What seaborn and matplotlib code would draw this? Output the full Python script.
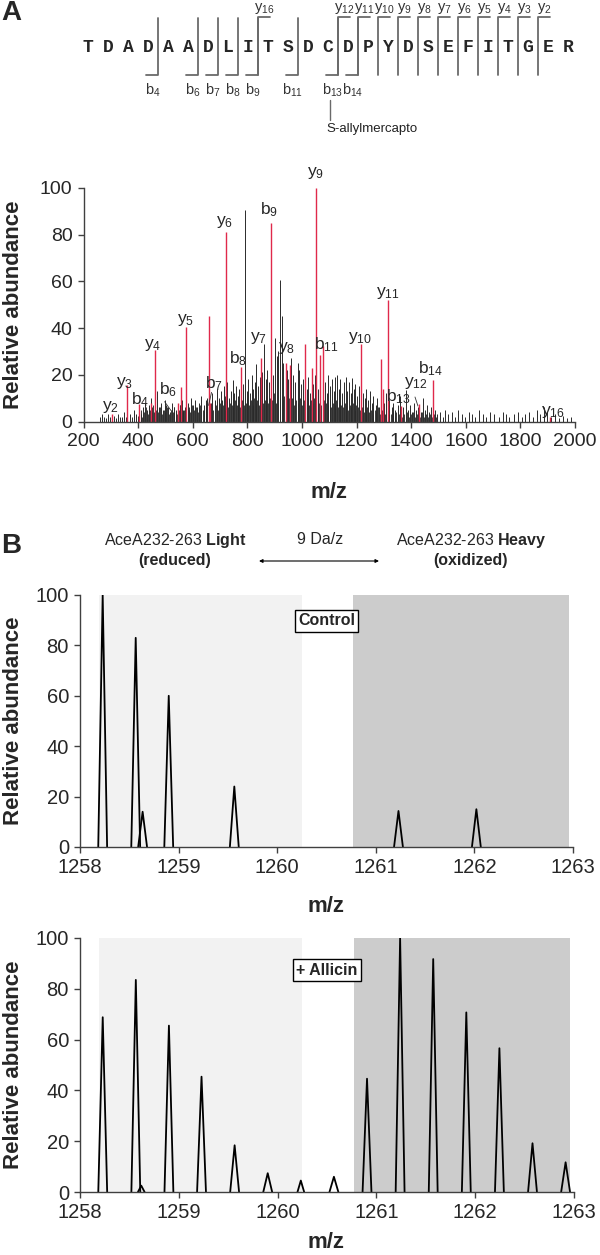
import numpy as np
import pandas as pd
import matplotlib
matplotlib.use("Agg")
import matplotlib.pyplot as plt
import seaborn as sns

# ---------------- data ----------------
SEQUENCE = list("TDADAADLITSDCDPYDSEFITGER")
B_IONS = [4, 6, 7, 8, 9, 11, 13, 14]
Y_IONS = [16, 12, 11, 10, 9, 8, 7, 6, 5, 4, 3, 2]

# annotated (red) fragment peaks
RED_MZ = [304, 361, 403, 448, 462, 545, 557, 575, 658, 662, 722, 776, 851, 886,
          940, 955, 1011, 1036, 1053, 1067, 1076, 1216, 1289, 1296, 1314, 1364,
          1429, 1479, 1907]
RED_INT = [3, 15.6, 7.6, 8, 30.6, 8, 14.6, 40.6, 45, 8, 81.3, 23.5, 27, 84.9,
           25, 24, 33, 23, 100, 28.6, 32.4, 33, 26.6, 14, 52, 6.7,
           7.7, 17.6, 2]

# unassigned (black) peaks
BLACK_MZ = [260, 268, 275, 283, 290, 298, 310, 318, 326, 334, 340, 348, 356, 370, 378, 386, 392, 398,
            405, 412, 418, 425, 432, 440, 447, 452, 458, 469, 476, 482, 490, 497, 503, 510, 517, 523,
            530, 537, 552, 560, 566, 572, 582, 588, 595, 602, 610, 617, 624, 632, 640, 647,
            654, 667, 672, 680, 688, 695, 702, 708, 714, 720, 727, 733, 740, 746, 752, 758, 764, 770,
            783, 791, 797, 803, 810, 816, 822, 828, 833, 840, 846, 855, 861, 867, 873, 880, 888, 895,
            903, 909, 914, 921, 926, 932, 946, 950, 961, 968, 975, 984, 990, 996,
            1003, 1018, 1024, 1030, 1042, 1048, 1060, 1084, 1090, 1097, 1104, 1110, 1117, 1122, 1128,
            1135, 1141, 1148, 1154, 1160, 1166, 1172, 1178, 1183, 1190, 1196, 1202, 1208, 1223, 1230,
            1236, 1243, 1250, 1256, 1262, 1270, 1276, 1282, 1302, 1308,
            1320, 1328, 1335, 1342, 1350, 1358, 1370, 1380, 1387, 1395, 1402, 1410, 1418, 1425, 1435,
            1442, 1450, 1458, 1466, 1472, 1488, 1495,
            1505, 1515, 1525, 1535, 1548, 1560, 1572, 1585, 1598, 1610, 1622, 1635, 1650, 1662, 1675,
            1690, 1705, 1720, 1735, 1748, 1760, 1775, 1790, 1805, 1818, 1830, 1845, 1860, 1872, 1885,
            1898, 1912, 1925, 1940, 1955, 1970, 1985]
BLACK_INT = [2, 3, 2, 1.5, 3, 2, 2.5, 1.5, 3, 2, 2, 4, 2, 3, 2, 5, 3, 2.5,
             4, 3, 6, 8, 5, 7, 10, 6, 4, 13, 6, 8, 5, 9, 7, 6, 4, 8,
             6, 5, 7, 9, 5, 6, 8, 5, 10, 7, 9, 6, 8, 11, 7, 9,
             10, 8, 12, 9, 14, 10, 13, 9, 15, 11, 17, 10, 13, 17.6, 12, 15, 11, 14,
             16, 90.6, 13, 18, 12, 20, 14, 17, 24.5, 15, 19, 21, 33.4, 18, 22, 17, 25, 20,
             35.7, 28, 30, 60.6, 45, 25, 22, 18, 27, 20, 17, 25, 22, 16,
             18, 14, 19, 12, 16, 20, 14, 17, 12, 20, 15, 18, 13, 19, 20,
             14, 18, 12, 17, 19, 13, 17, 12, 18.5, 14, 16, 11, 15, 12, 10,
             14, 9, 13, 8, 11, 7, 10, 6, 8, 12,
             9, 6, 8, 5, 7, 11, 6, 13.5, 5, 7, 4, 8, 5, 6, 4,
             10, 5, 7, 4, 6, 5, 3,
             4, 2, 5, 3, 4, 2, 5, 3, 2, 4, 3, 2, 5, 3, 2,
             4, 3, 2, 4, 3, 2, 3, 4, 2, 3, 4, 2, 5, 3, 6,
             4, 2, 3, 1.5, 2.5, 1.5, 2]

# low-level background peaks
BG_MZ = [402, 409, 415, 421, 428, 436, 443, 450, 455, 462, 466, 473, 479, 486, 493, 500, 506, 513, 520, 527,
         533, 541, 548, 555, 563, 569, 576, 585, 591, 598, 606, 613, 620, 628, 636, 643, 650, 658, 663, 676,
         684, 692, 699, 705, 711, 717, 724, 730, 737, 743, 749, 755, 761, 767, 774, 779, 787, 794, 800, 806,
         813, 819, 825, 831, 837, 843, 850, 858, 864, 870, 877, 884, 891, 898, 906, 918, 929, 936, 943, 953,
         958, 965, 972, 979, 987, 993, 999, 1006, 1012, 1021, 1027, 1033, 1039, 1045, 1052, 1057, 1063, 1070, 1080, 1087,
         1094, 1101, 1107, 1113, 1120, 1125, 1131, 1138, 1144, 1151, 1157, 1163, 1169, 1175, 1181, 1187, 1193, 1199, 1205, 1212,
         1219, 1226, 1233, 1240, 1247, 1253, 1259, 1266, 1273, 1279, 1286, 1293, 1299, 1305, 1318, 1325, 1332, 1339, 1346, 1354,
         1362, 1367, 1374, 1384, 1391, 1398, 1406, 1414, 1421, 1432, 1438, 1446, 1454, 1462, 1469, 1478, 1484, 1492]
BG_INT = [3, 5, 2, 4, 6, 3, 5, 4, 7, 3, 5, 4, 6, 3, 5, 4, 6, 3, 5, 4,
          6, 3, 5, 7, 4, 5, 3, 6, 4, 7, 5, 6, 4, 7, 5, 6, 8, 4, 6, 5,
          7, 5, 8, 6, 7, 5, 9, 6, 8, 7, 6, 9, 7, 8, 6, 9, 7, 8, 10, 7,
          9, 7, 10, 8, 9, 7, 10, 8, 9, 11, 8, 10, 9, 12, 8, 10, 9, 11, 8, 10,
          8, 10, 7, 9, 8, 10, 7, 9, 8, 10, 7, 9, 8, 10, 7, 9, 8, 7, 9, 8,
          7, 9, 6, 8, 7, 9, 6, 8, 7, 6, 8, 7, 5, 7, 6, 8, 5, 7, 6, 5,
          6, 4, 5, 6, 4, 5, 3, 5, 4, 6, 3, 5, 4, 3, 5, 3, 4, 2, 4, 3,
          4, 2, 3, 4, 2, 3, 4, 2, 3, 2, 4, 2, 3, 2, 3, 2, 3, 2]

# ion labels placed on spectrum A
ION_TYPE = ["y", "y", "b", "y", "b", "y", "b", "y", "b", "y", "b", "y", "y", "b", "y", "y", "b", "y", "b", "y"]
ION_NUM = [2, 3, 4, 4, 6, 5, 7, 6, 8, 7, 9, 8, 9, 11, 10, 11, 13, 12, 14, 16]
LABEL_MZ = [300, 352, 406, 455, 511, 574, 679, 718, 766, 840, 879, 945, 1050, 1090, 1211, 1314, 1352, 1418, 1471, 1919]
LABEL_Y = [6.3, 16.5, 9.2, 32.8, 13.5, 43.5, 16.3, 85.6, 27, 35.6, 90.6, 31.3, 106.3, 32.8, 35.6, 54.9, 10.5, 16.5, 22.8, 4.2]

# panel B isotope envelopes
CTRL_MZ = [1258.23, 1258.565, 1258.635, 1258.90, 1259.565, 1261.23, 1262.02]
CTRL_AB = [100, 83, 14, 60, 24, 14.3, 15]
ALLI_MZ = [1258.23, 1258.565, 1258.62, 1258.90, 1259.23, 1259.565, 1259.90, 1260.235,
           1260.57, 1260.905, 1261.24, 1261.575, 1261.91, 1262.245, 1262.58, 1262.915]
ALLI_AB = [68.8, 83.5, 2.5, 65.5, 45.4, 18.4, 7.4, 4.5,
           6, 44.6, 100, 91.7, 70.7, 56.6, 19.2, 11.7]
LIGHT_RANGE = (1258.19, 1260.25)
HEAVY_RANGE = (1260.77, 1262.96)

RED = "#e0294b"
BRACKET = "#6a6a6a"
SPINE = "#404040"

sns.set_style("ticks")
plt.rcParams["font.family"] = ["Liberation Sans", "DejaVu Sans"]
plt.rcParams["mathtext.fontset"] = "custom"
plt.rcParams["mathtext.rm"] = "Liberation Sans"
plt.rcParams["mathtext.it"] = "Liberation Sans:italic"
plt.rcParams["mathtext.bf"] = "Liberation Sans:bold"

W, H = 600, 1255
fig = plt.figure(figsize=(6, 12.55), dpi=100)

ov = fig.add_axes([0, 0, 1, 1])
ov.set_xlim(0, W)
ov.set_ylim(H, 0)
ov.axis("off")


def px_axes(left, top, right, bottom):
    return fig.add_axes([left / W, 1 - bottom / H, (right - left) / W, (bottom - top) / H])


def style_axes(ax, size):
    sns.despine(ax=ax)
    for s in ("left", "bottom"):
        ax.spines[s].set_color(SPINE)
        ax.spines[s].set_linewidth(1.0)
    ax.tick_params(direction="out", length=4, width=1, color=SPINE, labelsize=size, pad=4)
    ax.set_facecolor("none")
    ax.grid(False)


# ---------------- panel A: sequence map ----------------
ov.text(11, 13, "A", fontsize=20, weight="bold", ha="center", va="center")
X0, STEP, Y_SEQ = 88, 20, 47
for i, aa in enumerate(SEQUENCE):
    ov.text(X0 + STEP * i, Y_SEQ, aa, family="Liberation Mono", weight="bold",
            fontsize=13, ha="center", va="center")
for n in B_IONS:
    xb = X0 + STEP * (n - 0.5)
    ov.plot([xb - 12, xb, xb], [75, 75, 18], color=BRACKET, lw=1.3)
    ov.text(xb - 5, 90, f"b$_{{{n}}}$", fontsize=10.5, color="#333333", ha="center", va="center")
for n in Y_IONS:
    xy = X0 + STEP * (len(SEQUENCE) - n - 0.5)
    ov.plot([xy + 12, xy, xy], [17, 17, 75], color=BRACKET, lw=1.3)
    ov.text(xy + 6, 9, f"y$_{{{n}}}$", fontsize=10.5, color="#333333", ha="center", va="center")
x13 = X0 + STEP * (13 - 0.5) - 8
ov.plot([x13, x13], [100, 120], color=BRACKET, lw=1.0)
ov.text(x13 - 4, 129, "S-allylmercapto", fontsize=9.5, color="#222222", ha="left", va="center")

# ---------------- panel A: MS/MS spectrum ----------------
axA = px_axes(83.5, 188, 575, 421.5)
axA.vlines(BG_MZ, 0, BG_INT, color="#1a1a1a", lw=0.6)
axA.vlines(BLACK_MZ, 0, BLACK_INT, color="#2a2a2a", lw=0.7)
axA.vlines(RED_MZ, 0, RED_INT, color=RED, lw=1.0)
for t, n, mz, yy in zip(ION_TYPE, ION_NUM, LABEL_MZ, LABEL_Y):
    axA.text(mz, yy, f"{t}$_{{{n}}}$", fontsize=12.5, ha="center", va="center", clip_on=False)
# leader lines for crowded labels
axA.plot([497, 521], [8.5, 4.6], color="#333333", lw=0.6)
axA.plot([669, 658], [12.5, 6.9], color="#333333", lw=0.6)
axA.plot([1414, 1425], [10.5, 6.6], color="#333333", lw=0.6)
axA.set_xlim(200, 2000)
axA.set_ylim(0, 100)
axA.set_xticks(range(200, 2001, 200))
axA.set_yticks(range(0, 101, 20))
style_axes(axA, 14)
ov.text(14, 305, "Relative abundance", rotation=90, fontsize=16, weight="bold", ha="center", va="center")
ov.text(329, 492, "m/z", fontsize=16, weight="bold", ha="center", va="center")

# ---------------- panel B header ----------------
ov.text(11, 546, "B", fontsize=20, weight="bold", ha="center", va="center")
ov.text(175, 540, "AceA232-263 $\\mathbf{Light}$", fontsize=11.5, ha="center", va="center")
ov.text(175, 560, "(reduced)", fontsize=11.5, weight="bold", ha="center", va="center")
ov.text(320, 540, "9 Da/z", fontsize=11.5, ha="center", va="center")
ov.annotate("", xy=(259, 561), xytext=(379, 561),
            arrowprops=dict(arrowstyle="<|-|>", lw=0.8, color="black",
                            shrinkA=0, shrinkB=0, mutation_scale=5))
ov.text(471, 540, "AceA232-263 $\\mathbf{Heavy}$", fontsize=11.5, ha="center", va="center")
ov.text(471, 560, "(oxidized)", fontsize=11.5, weight="bold", ha="center", va="center")


def envelope(ax, mzs, abund, half=0.045):
    rows = []
    for k, (c, h) in enumerate(zip(mzs, abund)):
        w = half if h > 5 else half * 0.75
        rows += [(k, c - w, 0.0), (k, c, h), (k, c + w, 0.0)]
    df = pd.DataFrame(rows, columns=["peak", "mz", "ab"])
    sns.lineplot(data=df, x="mz", y="ab", units="peak", estimator=None, sort=False,
                 color="black", lw=1.3, ax=ax)


def panel_B(ax, mzs, abund, tag, tag_y):
    ax.axvspan(*LIGHT_RANGE, ymin=0, ymax=1, color="#f2f2f2", lw=0, zorder=0)
    ax.axvspan(*HEAVY_RANGE, ymin=0, ymax=1, color="#cccccc", lw=0, zorder=0)
    envelope(ax, mzs, abund)
    ax.set_xlim(1258, 1263)
    ax.set_ylim(0, 100)
    ax.set_xticks(range(1258, 1264))
    ax.set_yticks(range(0, 101, 20))
    ax.set_xlabel("")
    ax.set_ylabel("")
    style_axes(ax, 14.5)
    ax.text(1260.5, tag_y, tag, fontsize=11.5, weight="bold", ha="center", va="center",
            bbox=dict(boxstyle="square,pad=0.2", fc="white", ec="black", lw=1))


axC = px_axes(80, 595, 573, 847)
panel_B(axC, CTRL_MZ, CTRL_AB, "Control", 89.7)
ov.text(14, 721, "Relative abundance", rotation=90, fontsize=16, weight="bold", ha="center", va="center")
ov.text(326, 906, "m/z", fontsize=16, weight="bold", ha="center", va="center")

axD = px_axes(80, 938, 574, 1192)
panel_B(axD, ALLI_MZ, ALLI_AB, "+ Allicin", 87.4)
ov.text(14, 1065, "Relative abundance", rotation=90, fontsize=16, weight="bold", ha="center", va="center")
ov.text(326, 1242, "m/z", fontsize=16, weight="bold", ha="center", va="center")

fig.savefig("out.png", dpi=100, facecolor="white")
